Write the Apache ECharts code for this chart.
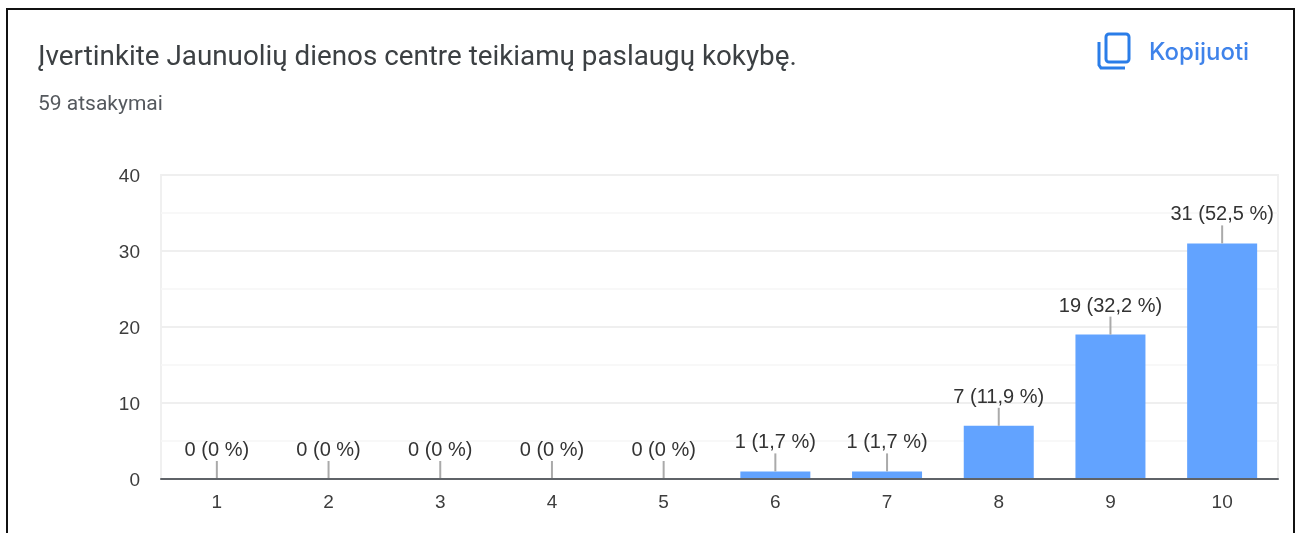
<!DOCTYPE html>
<html><head><meta charset="utf-8">
<style>html,body{margin:0;padding:0;background:#fff}#c{width:1300px;height:533px}</style>
<script src="https://cdn.jsdelivr.net/npm/echarts@6/dist/echarts.min.js"></script>
</head><body><div id="c"></div>
<script>
const categories = ['1','2','3','4','5','6','7','8','9','10'];
const counts = [0,0,0,0,0,1,1,7,19,31];
const percents = ['0','0','0','0','0','1,7','1,7','11,9','32,2','52,5'];
const titleText = 'Įvertinkite Jaunuolių dienos centre teikiamų paslaugų kokybę.';
const subtitleText = '59 atsakymai';
const copyText = 'Kopijuoti';
const yMax = 40, yStep = 10;

const chart = echarts.init(document.getElementById('c'), null, {renderer:'canvas'});
chart.setOption({
  animation:false,
  backgroundColor:'#fff',
  grid:{left:161,right:22,top:175,bottom:54,containLabel:false,show:true,borderColor:'#f0f0f0',borderWidth:2,backgroundColor:'transparent'},
  xAxis:{type:'category',data:categories,z:5,
    axisTick:{show:false},
    axisLine:{show:true,lineStyle:{color:'#5f6368',width:2}},
    axisLabel:{color:'#3d3d3d',fontFamily:'Liberation Sans',fontSize:19,margin:14},
    splitLine:{show:false}},
  yAxis:{type:'value',min:0,max:yMax,interval:yStep,minorTick:{show:false,splitNumber:2},
    axisLine:{show:false},axisTick:{show:false},
    axisLabel:{color:'#3d3d3d',fontFamily:'Liberation Sans',fontSize:19,margin:21,verticalAlign:'top',lineHeight:4},
    splitLine:{show:true,lineStyle:{color:'#efefef',width:2}},
    minorSplitLine:{show:true,lineStyle:{color:'#f6f6f6',width:1.5}}},
  series:[
    {type:'bar',data:counts,barWidth:70,barMinHeight:1,itemStyle:{color:'#62a3ff'},z:1},
    {type:'custom',data:counts.map((v,i)=>[i,v]),z:3,silent:true,
      encode:{x:0,y:1},
      renderItem(params,api){
        const p=api.coord([api.value(0),api.value(1)]);
        const i=params.dataIndex;
        return {type:'group',children:[
          {type:'line',shape:{x1:p[0],y1:p[1],x2:p[0],y2:p[1]-18},style:{stroke:'#aaaaaa',lineWidth:2}},
          {type:'text',style:{x:p[0],y:p[1]-18.5,text:counts[i]+' ('+percents[i]+' %)',
            textAlign:'center',textVerticalAlign:'bottom',fill:'#333',font:'20px "Liberation Sans"'}}
        ]};
      }}
  ],
  graphic:[
    {type:'rect',shape:{x:7,y:9,width:1287,height:530},style:{fill:'none',stroke:'#111',lineWidth:2},z:10},
    {type:'text',x:38,y:44,style:{text:titleText,fill:'#3c4043',font:'27.8px Roboto'},z:10},
    {type:'text',x:38,y:94,style:{text:subtitleText,fill:'#55595e',font:'21px Roboto'},z:10},
    {type:'text',x:1149,y:41,style:{text:copyText,fill:'#3f83ea',font:'500 24px Inter'},z:10},
    {type:'rect',shape:{x:1106,y:34,width:23,height:28,r:3},style:{fill:'none',stroke:'#2a7de8',lineWidth:3},z:10},
    {type:'polyline',shape:{points:[[1099,42],[1099,65],[1101,68],[1125,68]]},style:{fill:'none',stroke:'#2a7de8',lineWidth:3},z:10}
  ]
});
</script></body></html>
